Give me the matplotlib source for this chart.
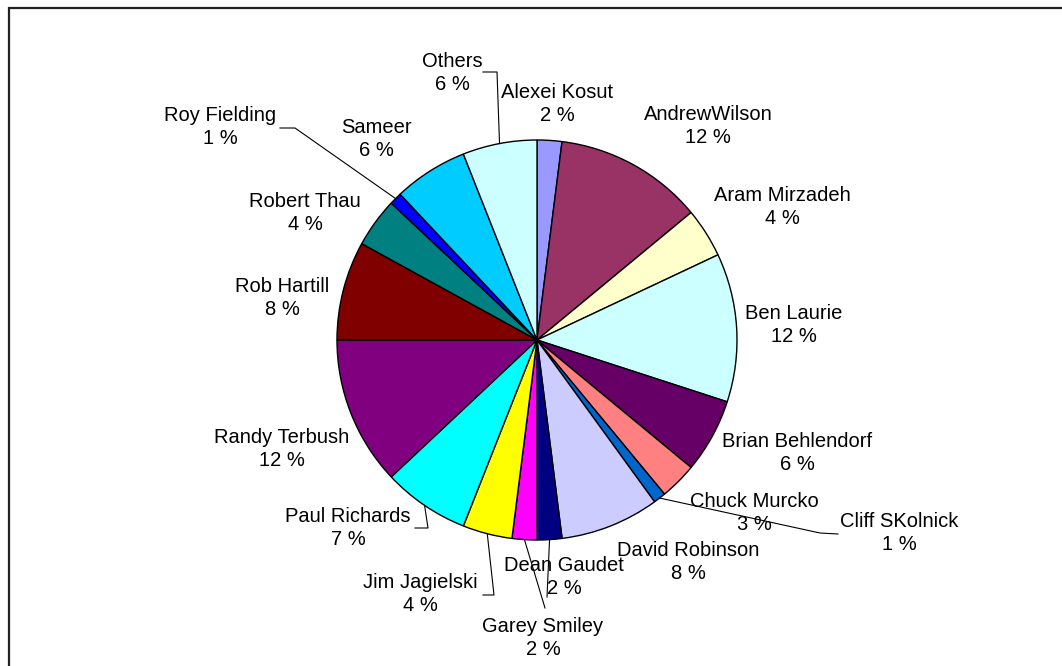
import numpy as np
import matplotlib.pyplot as plt

W, H = 1062, 666

names = ['Alexei Kosut', 'AndrewWilson', 'Aram Mirzadeh', 'Ben Laurie',
         'Brian Behlendorf', 'Chuck Murcko', 'Cliff SKolnick', 'David Robinson',
         'Dean Gaudet', 'Garey Smiley', 'Jim Jagielski', 'Paul Richards',
         'Randy Terbush', 'Rob Hartill', 'Robert Thau', 'Roy Fielding',
         'Sameer', 'Others']
shares = [2, 12, 4, 12, 6, 3, 1, 8, 2, 2, 4, 7, 12, 8, 4, 1, 6, 6]
colors = ['#9999FF', '#993366', '#FFFFCC', '#CCFFFF', '#660066', '#FF8080',
          '#0066CC', '#CCCCFF', '#000080', '#FF00FF', '#FFFF00', '#00FFFF',
          '#800080', '#800000', '#008080', '#0000FF', '#00CCFF', '#CCFFFF']

# label block centres (pixel coords, y down)
label_xy = [(557, 104), (708, 126), (782, 207), (794, 325), (797, 453),
            (754, 513), (899, 533), (688, 562), (564, 577), (543, 638),
            (420, 594), (348, 528), (282, 449), (282, 298), (305, 213),
            (220, 127), (376, 139), (452, 73)]

# leader line points after the rim point (pixel coords)
leaders = {
    'Others': [(497, 72), (483, 72)],
    'Roy Fielding': [(295, 128), (280, 128)],
    'Paul Richards': [(428, 528), (415, 528)],
    'Jim Jagielski': [(494, 595), (483, 595)],
    'Cliff SKolnick': [(820, 533), (838, 534)],
    'Dean Gaudet': [(547, 597)],
    'Garey Smiley': [(545, 608)],
}

cx, cy, R = 537, H - 340, 200

fig = plt.figure(figsize=(W / 100, H / 100), dpi=100)
ax = fig.add_axes([0, 0, 1, 1])

wedges, _ = ax.pie(shares, colors=colors, startangle=90, counterclock=False,
                   center=(cx, cy), radius=R,
                   wedgeprops=dict(edgecolor='black', linewidth=1.0))
ax.set_xlim(0, W)
ax.set_ylim(0, H)
ax.set_aspect('equal')
ax.axis('off')

for w, name, share, (lx, ly) in zip(wedges, names, shares, label_xy):
    ax.text(lx, H - ly, f'{name}\n{share} %', ha='center', va='center',
            family='Liberation Sans', fontsize=14.5, linespacing=1.3,
            color='black', zorder=5)
    if name in leaders:
        a = np.deg2rad((w.theta1 + w.theta2) / 2)
        xs = [cx + R * np.cos(a)] + [p[0] for p in leaders[name]]
        ys = [cy + R * np.sin(a)] + [H - p[1] for p in leaders[name]]
        ax.plot(xs, ys, color='black', lw=0.8, zorder=4)

# chart area border (top and left edges visible)
ax.plot([9, 9, W + 5], [-5, H - 8, H - 8], color='#222222', lw=1.6,
        clip_on=False, solid_joinstyle='miter')

fig.savefig('out.png', dpi=100, facecolor='white')
